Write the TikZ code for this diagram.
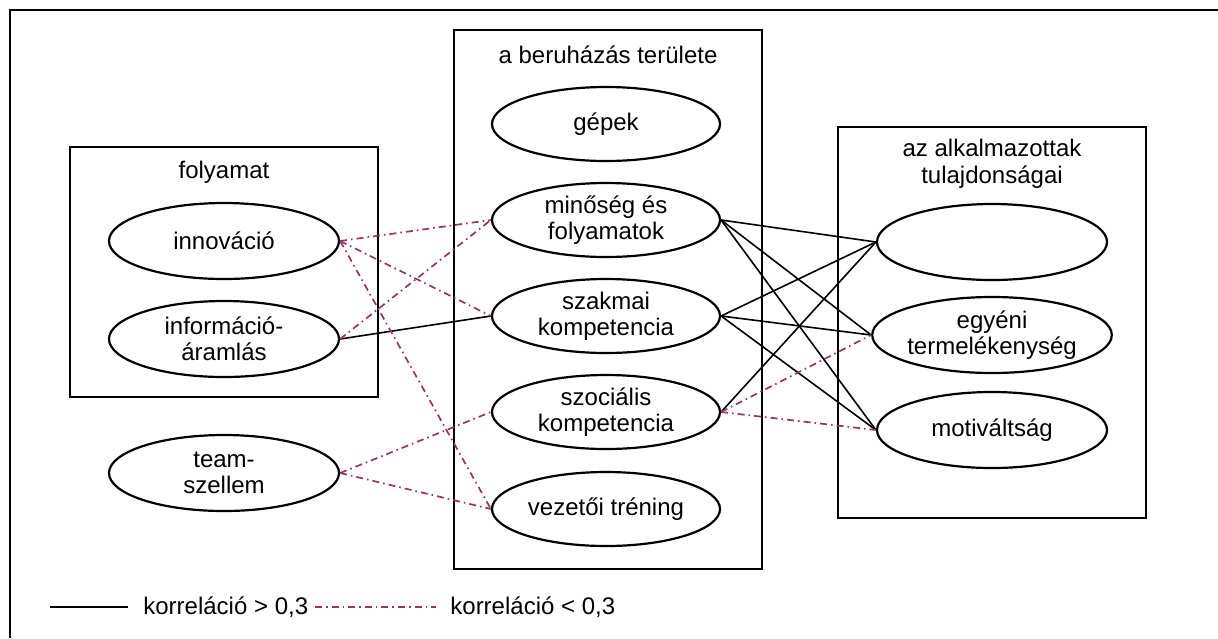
\documentclass[tikz,border=0pt]{standalone}
\usepackage{fontspec}
\setmainfont{Liberation Sans}
\usetikzlibrary{shapes.geometric}
\definecolor{dd}{RGB}{153,51,102}
\tikzset{
  ell/.style={ellipse, draw, line width=1.1pt, minimum width=115pt, minimum height=38pt, inner sep=0pt, align=center, font=\fontsize{12}{13}\selectfont},
  ellm/.style={ell, minimum width=114pt, minimum height=37pt},
  grp/.style={draw, line width=1pt},
  ttl/.style={align=center, font=\fontsize{12}{13.5}\selectfont, inner sep=0pt},
  solidc/.style={line width=0.8pt},
  ddc/.style={draw=dd, line width=0.85pt, dash pattern=on 3.5pt off 2pt on 0.8pt off 2pt},
}
\begin{document}
\begin{tikzpicture}[x=0.5pt,y=-0.5pt]
\useasboundingbox (0,0) rectangle (1218,638);
% outer frame (only top and left visible)
\draw[line width=1pt] (10,638) -- (10,10) -- (1218,10);
% group boxes
\draw[grp] (70,147) rectangle (378,397);
\draw[grp] (454,30) rectangle (762,569);
\draw[grp] (838,127) rectangle (1146,518);
% titles
\node[ttl] (t1) at (224,172) {folyamat};
\node[ttl] (t2) at (608,55) {a beruházás területe};
\node[ttl] (t3) at (992,164) {az alkalmazottak\\tulajdonságai};
% left ellipses
\node[ell] (inn) at (224,241) {innováció};
\node[ell] (inf) at (224,339) {információ-\\áramlás};
\node[ell] (team) at (224,473) {team-\\szellem};
% middle ellipses
\node[ellm] (gep) at (606,124) {gépek};
\node[ellm] (min) at (606,220) {minőség és\\folyamatok};
\node[ellm] (szak) at (606,316) {szakmai\\kompetencia};
\node[ellm] (szoc) at (606,412) {szociális\\kompetencia};
\node[ellm] (vez) at (606,509) {vezetői tréning};
% right ellipses
\node[ell] (ures) at (992,242) {};
\node[ell] (egy) at (992,335) {egyéni\\termelékenység};
\node[ell] (mot) at (992,430) {motiváltság};
% solid connectors
\draw[solidc] (inf.east) -- (szak.west);
\draw[solidc] (min.east) -- (ures.west);
\draw[solidc] (min.east) -- (egy.west);
\draw[solidc] (min.east) -- (mot.west);
\draw[solidc] (szak.east) -- (ures.west);
\draw[solidc] (szak.east) -- (egy.west);
\draw[solidc] (szak.east) -- (mot.west);
\draw[solidc] (szoc.east) -- (ures.west);
% dash-dot connectors
\draw[ddc] (inn.east) -- (min.west);
\draw[ddc] (inn.east) -- (szak.west);
\draw[ddc] (inn.east) -- (vez.west);
\draw[ddc] (inf.east) -- (min.west);
\draw[ddc] (team.east) -- (szoc.west);
\draw[ddc] (team.east) -- (vez.west);
\draw[ddc] (szoc.east) -- (egy.west);
\draw[ddc] (szoc.east) -- (mot.west);
% legend
\coordinate (l1a) at (50,607);
\coordinate (l1b) at (128,607);
\draw[solidc] (l1a) -- (l1b);
\node[ttl, anchor=west] (lt1) at (143,607) {korreláció > 0,3};
\coordinate (l2a) at (315,607);
\coordinate (l2b) at (436,607);
\draw[ddc] (l2a) -- (l2b);
\node[ttl, anchor=west] (lt2) at (450,607) {korreláció < 0,3};
\end{tikzpicture}
\end{document}
